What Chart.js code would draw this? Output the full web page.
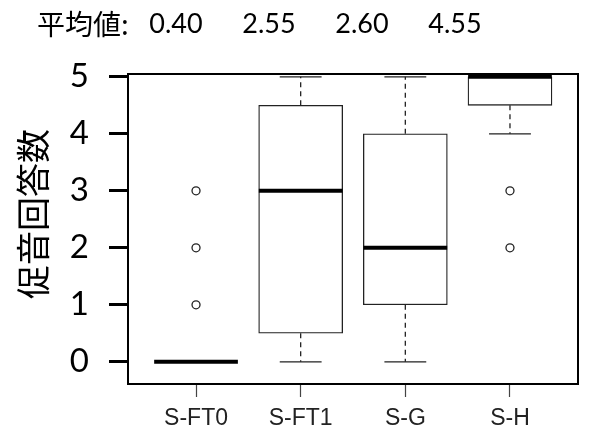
<!DOCTYPE html>
<html>
<head>
<meta charset="utf-8">
<script src="https://cdn.jsdelivr.net/npm/chart.js@4"></script>
<style>
  html, body { margin: 0; padding: 0; background: #fff; }
</style>
</head>
<body>
<canvas id="boxChart" width="589" height="441"></canvas>
<script>
// box plot values
const categories = ["S-FT0", "S-FT1", "S-G", "S-H"];
const whiskerLow = [0, 0, 0, 4];
const q1 = [0, 0.5, 1, 4.5];
const medians = [0, 3, 2, 5];
const q3 = [0, 4.5, 4, 5];
const whiskerHigh = [0, 5, 5, 5];
const outliers = [[1, 2, 3], [], [], [2, 3]];
const means = ["0.40", "2.55", "2.60", "4.55"];
const yTicks = [0, 1, 2, 3, 4, 5];

const outlierPoints = [];
outliers.forEach((list, i) => list.forEach(v => outlierPoints.push({ x: i + 1, y: v })));

// medians, whiskers, frame and the mean row
const boxExtras = {
    id: "boxExtras",
    afterDatasetsDraw(chart) {
        const { ctx, chartArea, scales: { x, y } } = chart;
        ctx.save();
        categories.forEach((c, i) => {
            const cx = x.getPixelForValue(i + 1);
            const capL = x.getPixelForValue(i + 1 - 0.2);
            const capR = x.getPixelForValue(i + 1 + 0.2);
            const boxL = x.getPixelForValue(i + 1 - 0.4);
            const boxR = x.getPixelForValue(i + 1 + 0.4);

            // dashed whiskers
            ctx.strokeStyle = "#222";
            ctx.lineWidth = 1.3;
            ctx.setLineDash([5, 4]);
            ctx.beginPath();
            if (whiskerHigh[i] > q3[i]) {
                ctx.moveTo(cx, y.getPixelForValue(q3[i]));
                ctx.lineTo(cx, y.getPixelForValue(whiskerHigh[i]));
            }
            if (whiskerLow[i] < q1[i]) {
                ctx.moveTo(cx, y.getPixelForValue(q1[i]));
                ctx.lineTo(cx, y.getPixelForValue(whiskerLow[i]));
            }
            ctx.stroke();

            // caps
            ctx.setLineDash([]);
            ctx.beginPath();
            ctx.moveTo(capL, y.getPixelForValue(whiskerHigh[i]));
            ctx.lineTo(capR, y.getPixelForValue(whiskerHigh[i]));
            ctx.moveTo(capL, y.getPixelForValue(whiskerLow[i]));
            ctx.lineTo(capR, y.getPixelForValue(whiskerLow[i]));
            ctx.stroke();

            // median
            ctx.strokeStyle = "#000";
            ctx.lineWidth = 4;
            ctx.lineCap = "butt";
            ctx.beginPath();
            ctx.moveTo(boxL, y.getPixelForValue(medians[i]));
            ctx.lineTo(boxR, y.getPixelForValue(medians[i]));
            ctx.stroke();
        });

        // frame
        ctx.strokeStyle = "#000";
        ctx.lineWidth = 2;
        ctx.strokeRect(chartArea.left, chartArea.top, chartArea.right - chartArea.left, chartArea.bottom - chartArea.top);
        ctx.restore();
    },
    afterDraw(chart) {
        const { ctx } = chart;
        ctx.save();
        ctx.fillStyle = "#000";
        ctx.textBaseline = "middle";
        ctx.font = "28px 'Noto Sans CJK JP'";
        ctx.textAlign = "left";
        ctx.fillText("平均値:", 37, 24);
        ctx.font = "27px Lato";
        ctx.textAlign = "center";
        means.forEach((m, i) => ctx.fillText(m, 176 + i * 93, 24));

        // y axis title
        ctx.font = "34px 'Noto Sans CJK JP'";
        ctx.translate(33, 214);
        ctx.rotate(-Math.PI / 2);
        ctx.fillText("促音回答数", 0, 0);
        ctx.restore();
    }
};

new Chart(document.getElementById("boxChart"), {
    type: "bar",
    data: {
        datasets: [
            {
                type: "line",
                label: "outliers",
                data: outlierPoints,
                showLine: false,
                pointStyle: "circle",
                pointRadius: 4,
                pointBorderWidth: 1.3,
                pointBorderColor: "#222",
                pointBackgroundColor: "#fff"
            },
            {
                type: "bar",
                label: "box",
                data: categories.map((c, i) => ({ x: i + 1, y: [q1[i], q3[i]] })),
                backgroundColor: "#fff",
                borderColor: "#222",
                borderWidth: 1.3,
                borderSkipped: false,
                barThickness: 84
            }
        ]
    },
    options: {
        responsive: false,
        animation: false,
        layout: { padding: { top: 74, right: 11, left: 0, bottom: 0 } },
        plugins: {
            legend: { display: false },
            tooltip: { enabled: false }
        },
        scales: {
            x: {
                type: "linear",
                min: 0.35,
                max: 4.65,
                offset: false,
                afterBuildTicks: scale => { scale.ticks = categories.map((c, i) => ({ value: i + 1 })); },
                afterFit: scale => { scale.height = 57; },
                grid: { drawOnChartArea: false, offset: false, tickLength: 13, tickWidth: 1.2, tickColor: "#444" },
                border: { display: false },
                ticks: {
                    autoSkip: false,
                    maxRotation: 0,
                    padding: 8,
                    color: "#222",
                    font: { family: "'Liberation Sans', Arial", size: 23 },
                    callback: v => categories[v - 1]
                }
            },
            y: {
                min: -0.39,
                max: 5.05,
                afterBuildTicks: scale => { scale.ticks = yTicks.map(v => ({ value: v })); },
                afterFit: scale => { scale.width = 128; },
                grid: { drawOnChartArea: false, tickLength: 19, tickWidth: 3, tickColor: "#000" },
                border: { display: false },
                ticks: {
                    padding: 20,
                    color: "#000",
                    font: { family: "Lato", size: 33 }
                }
            }
        }
    },
    plugins: [boxExtras]
});
</script>
</body>
</html>
